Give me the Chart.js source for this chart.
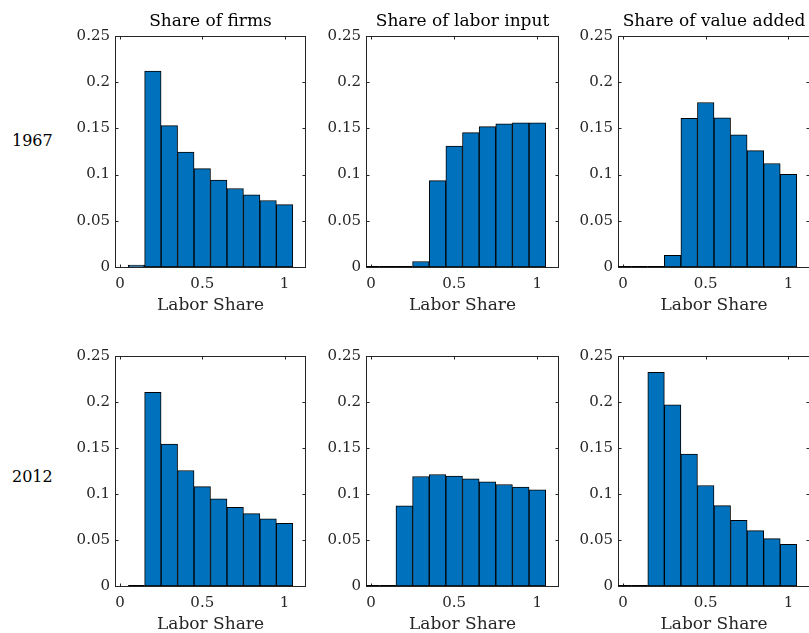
<!DOCTYPE html>
<html>
<head>
<meta charset="utf-8">
<title>Labor share distributions, 1967 and 2012</title>
<script src="https://cdn.jsdelivr.net/npm/chart.js@4.4.1/dist/chart.umd.min.js"></script>
<style>
  html, body { margin: 0; padding: 0; background: #ffffff; }
  body { width: 809px; height: 633px; position: relative; overflow: hidden; }
  canvas { position: absolute; }
  .year { position: absolute; font-family: "DejaVu Serif", serif; font-size: 16px; color: #000; line-height: 20px; }
</style>
</head>
<body>
<div class="year" id="year0"></div>
<div class="year" id="year1"></div>
<script>
// Histogram bins (centers, width 0.1) of firm-level labor shares
const binCenters = [0, 0.1, 0.2, 0.3, 0.4, 0.5, 0.6, 0.7, 0.8, 0.9, 1.0];

// 1967
const firms1967 = [null, 0.002, 0.212, 0.153, 0.1245, 0.1065, 0.094, 0.085, 0.078, 0.072, 0.0675];
const labor1967 = [0, 0, 0, 0.006, 0.0935, 0.131, 0.1455, 0.152, 0.155, 0.156, 0.156];
const valueAdded1967 = [0, 0, 0, 0.0126, 0.161, 0.178, 0.1615, 0.143, 0.126, 0.112, 0.1003];

// 2012
const firms2012 = [null, 0, 0.2105, 0.1542, 0.1255, 0.108, 0.0947, 0.0856, 0.0787, 0.0729, 0.0682];
const labor2012 = [0, 0, 0.0871, 0.119, 0.1212, 0.1194, 0.1165, 0.1132, 0.1103, 0.1074, 0.1045];
const valueAdded2012 = [0, 0, 0.2322, 0.197, 0.1433, 0.1092, 0.0874, 0.0715, 0.0602, 0.0515, 0.0454];

const panelTitles = ['Share of firms', 'Share of labor input', 'Share of value added'];
const years = ['1967', '2012'];
const xAxisTitle = 'Labor Share';
const xTicks = [0, 0.5, 1];
const yTicks = [0, 0.05, 0.1, 0.15, 0.2, 0.25];

const seriesGrid = [
  [firms1967, labor1967, valueAdded1967],
  [firms2012, labor2012, valueAdded2012]
];

// panel placement (plot-area boxes)
const colBoxes = [[115, 191], [366, 193], [618, 192]];
const rowBoxes = [[36, 231], [356, 230]];
const Y_AXIS_W = 60, TOP_H = 36, BOTTOM_H = 50, RIGHT_PAD = 4;

const SERIF = '"DejaVu Serif", serif';
const AXIS_COLOR = '#262626';
const BAR_FILL = '#0072BD';

// box outline with inward ticks on all four sides, plus the edges of empty bins
const framePlugin = {
  id: 'frame',
  beforeDatasetsDraw(chart) {
    const { ctx, chartArea: a, scales } = chart;
    const x = scales.x, y = scales.y;
    const tl = 3;
    ctx.save();
    ctx.strokeStyle = AXIS_COLOR;
    ctx.lineWidth = 1;
    const L = Math.round(a.left) + 0.5, R = Math.round(a.right) - 0.5;
    const T = Math.round(a.top) + 0.5, B = Math.round(a.bottom) + 0.5;
    ctx.strokeRect(L, T, R - L, B - T);
    ctx.beginPath();
    xTicks.forEach(v => {
      const px = Math.round(x.getPixelForValue(v)) + 0.5;
      ctx.moveTo(px, B); ctx.lineTo(px, B - tl);
      ctx.moveTo(px, T); ctx.lineTo(px, T + tl);
    });
    yTicks.forEach(v => {
      const py = Math.round(y.getPixelForValue(v)) + 0.5;
      ctx.moveTo(L, py); ctx.lineTo(L + tl, py);
      ctx.moveTo(R, py); ctx.lineTo(R - tl, py);
    });
    ctx.stroke();
    ctx.restore();
  },
  afterDatasetsDraw(chart) {
    const { ctx, chartArea: a, scales } = chart;
    const x = scales.x, y = scales.y;
    const values = chart.data.datasets[0].data;
    ctx.save();
    ctx.beginPath();
    ctx.rect(a.left, a.top - 1, a.right - a.left, a.bottom - a.top + 2);
    ctx.clip();
    ctx.strokeStyle = '#000';
    ctx.lineWidth = 1;
    ctx.beginPath();
    const y0 = Math.round(y.getPixelForValue(0)) - 0.5;
    values.forEach(p => {
      if (p.y === 0) {
        ctx.moveTo(x.getPixelForValue(p.x - 0.05), y0);
        ctx.lineTo(x.getPixelForValue(p.x + 0.05), y0);
      }
    });
    ctx.stroke();
    ctx.restore();
  }
};

function makePanel(r, c) {
  const [L, W] = colBoxes[c];
  const [T, H] = rowBoxes[r];
  const canvas = document.createElement('canvas');
  const cw = Y_AXIS_W + W + RIGHT_PAD, ch = TOP_H + H + BOTTOM_H;
  canvas.width = cw; canvas.height = ch;
  canvas.style.left = (L - Y_AXIS_W) + 'px';
  canvas.style.top = (T - TOP_H) + 'px';
  canvas.style.width = cw + 'px';
  canvas.style.height = ch + 'px';
  document.body.appendChild(canvas);

  const values = seriesGrid[r][c];
  const data = binCenters.map((x, i) => ({ x: x, y: values[i] }));

  new Chart(canvas, {
    type: 'bar',
    data: {
      datasets: [{
        data: data,
        backgroundColor: BAR_FILL,
        borderColor: '#000000',
        borderWidth: 1,
        borderSkipped: false,
        barPercentage: 1.0,
        categoryPercentage: 1.0
      }]
    },
    options: {
      responsive: false,
      animation: false,
      devicePixelRatio: 1,
      layout: { padding: { left: 0, top: 0, right: RIGHT_PAD, bottom: 0 } },
      plugins: { legend: { display: false }, tooltip: { enabled: false }, title: { display: false } },
      scales: {
        x: {
          type: 'linear',
          position: 'bottom',
          min: -0.03,
          max: 1.13,
          offset: false,
          grid: { display: false, drawTicks: false },
          border: { display: false },
          afterBuildTicks: s => { s.ticks = xTicks.map(v => ({ value: v })); },
          afterFit: s => { s.height = BOTTOM_H; },
          ticks: {
            includeBounds: false,
            padding: 8,
            color: AXIS_COLOR,
            font: { family: SERIF, size: 15 },
            maxRotation: 0,
            callback: v => String(v)
          },
          title: {
            display: true,
            text: xAxisTitle,
            color: AXIS_COLOR,
            font: { family: SERIF, size: 17 },
            padding: { top: 0, bottom: 1 }
          }
        },
        xTop: {
          type: 'linear',
          position: 'top',
          min: -0.03,
          max: 1.13,
          grid: { display: false, drawTicks: false },
          border: { display: false },
          ticks: { display: false },
          afterFit: s => { s.height = TOP_H; },
          title: {
            display: r === 0,
            text: r === 0 ? panelTitles[c] : '',
            color: '#000000',
            font: { family: SERIF, size: 17 },
            padding: { top: 11, bottom: 0 }
          }
        },
        y: {
          type: 'linear',
          position: 'left',
          min: 0,
          max: 0.25,
          grid: { display: false, drawTicks: false },
          border: { display: false },
          afterBuildTicks: s => { s.ticks = yTicks.map(v => ({ value: v })); },
          afterFit: s => { s.width = Y_AXIS_W; },
          ticks: {
            padding: 5,
            color: AXIS_COLOR,
            font: { family: SERIF, size: 15 },
            callback: v => String(Number(v.toFixed(2)))
          }
        }
      }
    },
    plugins: [framePlugin]
  });
}

for (let r = 0; r < 2; r++) {
  for (let c = 0; c < 3; c++) makePanel(r, c);
}

// row labels
const yearCenters = [141, 477];
years.forEach((yr, i) => {
  const el = document.getElementById('year' + i);
  el.textContent = yr;
  el.style.left = '12px';
  el.style.top = (yearCenters[i] - 10) + 'px';
});
</script>
</body>
</html>
